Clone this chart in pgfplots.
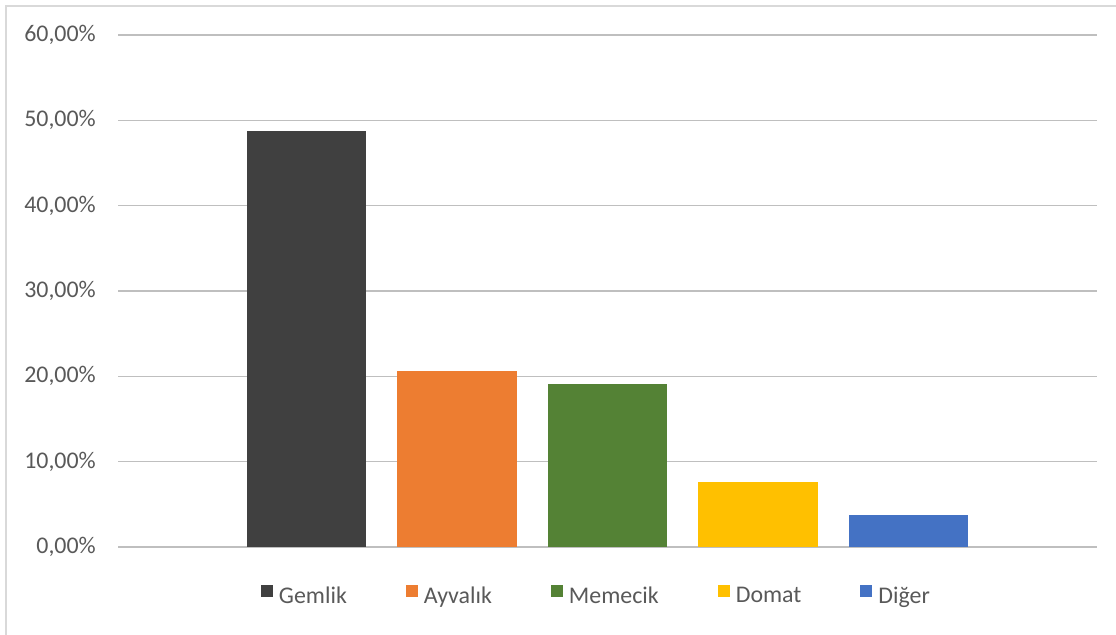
\documentclass[border=0pt]{standalone}
\usepackage{pgfplots}
\pgfplotsset{compat=1.18}
\usepackage{fontspec}
\setmainfont{Carlito}
\definecolor{txt}{HTML}{595959}
\definecolor{grid}{HTML}{D9D9D9}
\definecolor{cA}{HTML}{404040}
\definecolor{cB}{HTML}{ED7D31}
\definecolor{cC}{HTML}{548235}
\definecolor{cD}{HTML}{FFC000}
\definecolor{cE}{HTML}{4472C4}
\begin{document}
\begin{tikzpicture}[x=1bp,y=1bp]
\path[use as bounding box] (0,0) rectangle (1116,635);
\draw[grid, line width=2bp] (5.7,-10) -- (5.7,629.3) -- (1130,629.3);
\begin{axis}[
  at={(118bp,88bp)}, anchor=south west,
  width=979bp, height=512bp, scale only axis,
  xmin=-1.2525, xmax=5.2525, ymin=0, ymax=60,
  axis line style={draw=none},
  ybar, bar width=0.791, bar shift=0pt,
  xtick=\empty,
  ytick={0,10,20,30,40,50,60},
  yticklabels={{0,00\%},{10,00\%},{20,00\%},{30,00\%},{40,00\%},{50,00\%},{60,00\%}},
  major tick length=0pt,
  ymajorgrids, grid style={grid, line width=1.3bp},
  yticklabel style={font=\fontsize{24}{28}\selectfont, text=txt, anchor=east, inner sep=0pt, xshift=-22bp},
  legend columns=5,
  legend style={draw=none, fill=none, at={(0.4877,-0.09375)}, anchor=center,
    font=\fontsize{24}{28}\selectfont, text=txt,
    nodes={inner sep=0pt},
    /tikz/every odd column/.append style={column sep=6bp},
    /tikz/every even column/.append style={column sep=59bp}},
  legend image code/.code={\fill[#1] (0bp,-1bp) rectangle (12bp,11bp);},
]
\addplot[fill=cA, draw=none] coordinates {(0,48.7)};
\addlegendentry{Gemlik}
\addplot[fill=cB, draw=none] coordinates {(1,20.6)};
\addlegendentry{Ayvalık}
\addplot[fill=cC, draw=none] coordinates {(2,19.1)};
\addlegendentry{Memecik}
\addplot[fill=cD, draw=none] coordinates {(3,7.6)};
\addlegendentry{Domat}
\addplot[fill=cE, draw=none] coordinates {(4,3.75)};
\addlegendentry{Diğer}
\end{axis}
\end{tikzpicture}
\end{document}
